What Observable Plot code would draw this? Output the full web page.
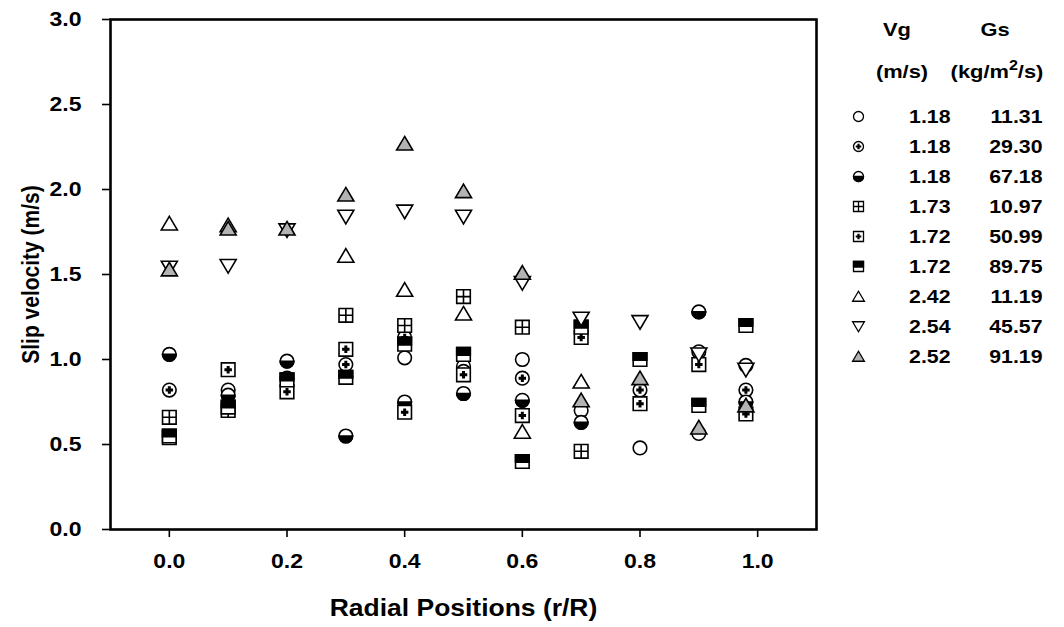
<!DOCTYPE html>
<html><head><meta charset="utf-8">
<script src="https://cdn.jsdelivr.net/npm/d3@7"></script>
<script src="https://cdn.jsdelivr.net/npm/@observablehq/plot@0.6"></script>
<style>
body{margin:0;background:#fff;}
#wrap{position:relative;width:1064px;height:627px;font-family:"Liberation Sans",Arial,sans-serif;font-weight:bold;}
#wrap svg{position:absolute;}
.hdr{position:absolute;font-size:19px;font-weight:bold;transform:translate(-50%,-50%) scaleX(1.15);white-space:nowrap;color:#000;}
.hdr sup{font-size:14px;}
</style></head><body><div id="wrap"></div>
<script>
// Radial positions (r/R)
const positions = [0, 0.1, 0.2, 0.3, 0.4, 0.5, 0.6, 0.7, 0.8, 0.9, 0.98];
// Legend values
const vgValues = ["1.18","1.18","1.18","1.73","1.72","1.72","2.42","2.54","2.52"];
const gsValues = ["11.31","29.30","67.18","10.97","50.99","89.75","11.19","45.57","91.19"];
// Slip velocity (m/s) per series, one value per radial position (null = not visible)
const s1 = [null, 0.82, null, 0.90, 1.01, 0.96, 1.00, 0.70, 0.48, 0.565, 0.965];
const s2 = [0.82, null, 0.89, 0.97, 1.13, 0.93, 0.89, null, 0.82, 1.045, 0.82];
const s3 = [1.03, 0.79, 0.99, 0.55, 0.75, 0.80, 0.76, 0.63, null, 1.28, 0.75];
const s4 = [0.66, 0.70, null, 1.26, 1.20, 1.37, 1.19, 0.46, null, null, null];
const s5 = [0.54, 0.94, 0.81, 1.06, 0.69, 0.91, 0.67, 1.13, 0.74, 0.97, 0.68];
const s6 = [0.55, 0.72, 0.88, 0.895, 1.09, 1.03, 0.40, 1.19, 1.00, 0.73, 1.20];
const s7 = [1.80, 1.79, null, 1.61, 1.41, 1.27, 0.575, 0.87, null, null, null];
const s8 = [1.54, 1.55, 1.76, 1.84, 1.87, 1.84, 1.45, 1.24, 1.22, 1.03, 0.94];
const s9 = [1.53, 1.77, 1.77, 1.97, 2.27, 1.99, 1.51, 0.76, 0.89, 0.60, 0.73];
const xTicks = [0, 0.2, 0.4, 0.6, 0.8, 1.0];
const yTicks = [0, 0.5, 1, 1.5, 2, 2.5, 3];
const xTitle = "Radial Positions (r/R)";
const yTitle = "Slip velocity (m/s)";

// custom symbols
function sym(fn){return {draw(ctx,size){const r=Math.sqrt(size/Math.PI); fn(ctx,r);}};}
const circle = sym((c,r)=>{c.moveTo(r,0);c.arc(0,0,r,0,2*Math.PI);c.closePath();});
const halfBottom = sym((c,r)=>{c.moveTo(r,0);c.arc(0,0,r,0,Math.PI);c.closePath();});
const plus = sym((c,r)=>{const a=r*0.55,t=r*0.22;
  c.moveTo(-t,-a);c.lineTo(t,-a);c.lineTo(t,-t);c.lineTo(a,-t);c.lineTo(a,t);c.lineTo(t,t);
  c.lineTo(t,a);c.lineTo(-t,a);c.lineTo(-t,t);c.lineTo(-a,t);c.lineTo(-a,-t);c.lineTo(-t,-t);c.closePath();});
const square = sym((c,r)=>{c.rect(-r,-r,2*r,2*r);});
const grid = sym((c,r)=>{c.moveTo(-r,0);c.lineTo(r,0);c.moveTo(0,-r);c.lineTo(0,r);});
const halfSquareTop = sym((c,r)=>{c.rect(-r,-r,2*r,r*1.1);});
const triUp = sym((c,r)=>{c.moveTo(0,-r*1.05);c.lineTo(r*1.18,r*0.95);c.lineTo(-r*1.18,r*0.95);c.closePath();});
const triDown = sym((c,r)=>{c.moveTo(0,r*1.05);c.lineTo(r*1.18,-r*0.95);c.lineTo(-r*1.18,-r*0.95);c.closePath();});

const seriesDefs = [
  {vals:s1, layers:[{s:circle, fill:"white", stroke:"black"}]},
  {vals:s2, layers:[{s:circle, fill:"white", stroke:"black"},{s:plus, fill:"black", stroke:"none"}]},
  {vals:s3, layers:[{s:circle, fill:"white", stroke:"black"},{s:halfBottom, fill:"black", stroke:"black"}]},
  {vals:s4, layers:[{s:square, fill:"white", stroke:"black"},{s:grid, fill:"none", stroke:"black"}]},
  {vals:s5, layers:[{s:square, fill:"white", stroke:"black"},{s:plus, fill:"black", stroke:"none"}]},
  {vals:s6, layers:[{s:square, fill:"white", stroke:"black"},{s:halfSquareTop, fill:"black", stroke:"black"}]},
  {vals:s7, layers:[{s:triUp, fill:"white", stroke:"black"}]},
  {vals:s8, layers:[{s:triDown, fill:"white", stroke:"black"}]},
  {vals:s9, layers:[{s:triUp, fill:"#b3b3b3", stroke:"black"}]}
];

const font = "Liberation Sans, Arial, sans-serif";
const dotMarks = [];
seriesDefs.forEach(sd => {
  const rows = positions.map((x,j)=>({x, v: sd.vals[j]})).filter(d=>d.v!=null);
  sd.layers.forEach(l => {
    dotMarks.push(Plot.dot(rows, {x:"x", y:"v", symbol:l.s, r:6.8, fill:l.fill, stroke:l.stroke, strokeWidth:1.6}));
  });
});

const main = Plot.plot({
  width:1064, height:627,
  marginLeft:110, marginRight:248, marginTop:19, marginBottom:98,
  x:{domain:[-0.1,1.1]},
  y:{domain:[0,3]},
  style:{fontFamily:font, fontWeight:"bold", background:"white", color:"black"},
  marks:[
    Plot.axisY({ticks:yTicks, tickFormat:d=>d.toFixed(1), tickSize:8, tickPadding:21, fontSize:20, label:null, strokeWidth:1.6}),
    Plot.axisX({ticks:xTicks, tickFormat:d=>d.toFixed(1), tickSize:8, tickPadding:16, fontSize:20, label:null, strokeWidth:1.6}),
    ...dotMarks,
    Plot.frame({stroke:"black", strokeWidth:2.6}),
    Plot.text([xTitle], {text:d=>d, frameAnchor:"bottom", lineAnchor:"middle", textAnchor:"middle", dy:79, fontSize:23, fontWeight:"bold"}),
    Plot.text([yTitle], {text:d=>d, frameAnchor:"left", lineAnchor:"middle", textAnchor:"middle", rotate:-90, dx:-79, fontSize:21, fontWeight:"bold"})
  ]
});
main.style.left = "0px"; main.style.top = "0px";
const wrap = document.getElementById("wrap");
wrap.appendChild(main);

// legend
const rowsIdx = d3.range(vgValues.length);
const legendMarks = [];
seriesDefs.forEach((sd,i) => {
  sd.layers.forEach(l => {
    legendMarks.push(Plot.dot([i], {x:()=>"sym", y:d=>d, symbol:l.s, r:5, fill:l.fill, stroke:l.stroke, strokeWidth:1.3}));
  });
});
const legend = Plot.plot({
  width:224, height:290, margin:0,
  x:{type:"point", domain:["sym","vg","gs"], range:[17,202], padding:0, axis:null},
  y:{type:"point", domain:rowsIdx, range:[15,257], padding:0, axis:null},
  style:{fontFamily:font, fontWeight:"bold", background:"transparent", color:"black"},
  marks:[
    ...legendMarks,
    Plot.text(rowsIdx, {x:()=>"vg", y:d=>d, text:d=>vgValues[d], textAnchor:"end", fontSize:19, fontWeight:"bold"}),
    Plot.text(rowsIdx, {x:()=>"gs", y:d=>d, text:d=>gsValues[d], textAnchor:"end", fontSize:19, fontWeight:"bold"})
  ]
});
legend.style.left = "840px"; legend.style.top = "100px";
wrap.appendChild(legend);

// horizontal stretch of texts (reference lettering is wide)
function stretch(svg, k){
  svg.querySelectorAll("text").forEach(t => {
    if (t.querySelector("tspan")) return;
    const tr = t.getAttribute("transform") || "";
    if (tr.includes("rotate")) {
      // rotated title: widen glyphs across the reading direction
      t.setAttribute("transform", tr + " scale(1," + k + ")");
      return;
    }
    const L = t.getComputedTextLength();
    if (L > 0) { t.setAttribute("textLength", L * k); t.setAttribute("lengthAdjust", "spacingAndGlyphs"); }
  });
}
stretch(main, 1.15);
stretch(legend, 1.12);

const headers = [
  {t:"Vg", x:897, y:30},
  {t:"Gs", x:995, y:30},
  {t:"(m/s)", x:902, y:72},
  {t:"(kg/m<sup>2</sup>/s)", x:997, y:70}
];
headers.forEach(h => {
  const d = document.createElement("div");
  d.className = "hdr"; d.innerHTML = h.t;
  d.style.left = h.x + "px"; d.style.top = h.y + "px";
  wrap.appendChild(d);
});
</script></body></html>
